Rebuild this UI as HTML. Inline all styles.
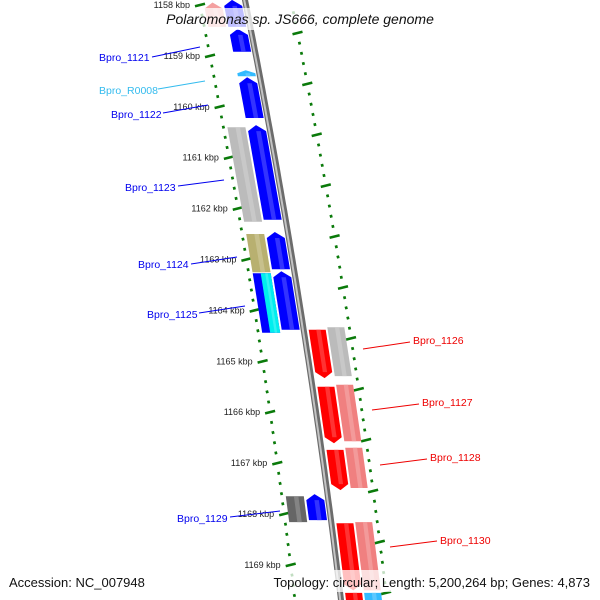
<!DOCTYPE html>
<html><head><meta charset="utf-8"><style>
body{margin:0;background:#fff;}
svg{display:block;font-family:"Liberation Sans","DejaVu Sans",sans-serif;}
</style></head><body>
<svg id="map" width="600" height="600" viewBox="0 0 600 600" xmlns="http://www.w3.org/2000/svg">
<defs>
<linearGradient id="bb" x1="0" x2="1" y1="0" y2="0">
<stop offset="0" stop-color="#777"/><stop offset="0.5" stop-color="#c8c8c8"/><stop offset="1" stop-color="#666"/>
</linearGradient>
</defs>
<g id="track"></g>
<g id="genes"></g>
<g id="labels"></g>
<rect x="0" y="8" width="600" height="22" fill="#fff" fill-opacity="0.75"/>
<text x="300" y="24" text-anchor="middle" font-size="14" font-style="italic" fill="#111">Polaromonas sp. JS666, complete genome</text>
<rect x="0" y="570" width="600" height="22" fill="#fff" fill-opacity="0.75"/>
<text x="9" y="587" font-size="13" fill="#111">Accession: NC_007948</text>
<text x="590" y="587" text-anchor="end" font-size="13" fill="#111">Topology: circular; Length: 5,200,264 bp; Genes: 4,873</text>
</svg>
<script>
// tick data (kbp)
const tickKbp = [1158,1159,1160,1161,1162,1163,1164,1165,1166,1167,1168,1169];
// genes: names, start/end (kbp), strand, lane, colours
const geneNames  = ['g-top-pink','g-top-blue','Bpro_1121','Bpro_R0008','Bpro_1122','Bpro_1123-cog','Bpro_1123','Bpro_1124-cog','Bpro_1124','Bpro_1125-cog','Bpro_1125-cog2','Bpro_1125','Bpro_1129-cog','Bpro_1129','Bpro_1126','Bpro_1126-cog','Bpro_1127','Bpro_1127-cog','Bpro_1128','Bpro_1128-cog','Bpro_1130','Bpro_1130-cog','g-bot-red','g-bot-cyan'];
const geneStart  = [1157.95,1157.9,1158.47,1159.28,1159.42,1160.4,1160.36,1162.5,1162.46,1163.27,1163.27,1163.23,1167.65,1167.61,1164.38,1164.33,1165.5,1165.46,1166.74,1166.7,1168.18,1168.16,1169.55,1169.55];
const geneEnd    = [1158.43,1158.43,1158.92,1159.4,1160.22,1162.26,1162.22,1163.25,1163.19,1164.44,1164.44,1164.38,1168.16,1168.12,1165.33,1165.29,1166.61,1166.57,1167.53,1167.49,1169.5,1169.5,1170.0,1170.0];
const geneStrand = ['up','up','up','up','up','none','up','none','up','none','none','up','none','up','down','none','down','none','down','none','down','none','down','none'];
const geneLane   = ['outer','inner','inner','inner','inner','outer','inner','outer','inner','outer','outer2','inner','outer','inner','rin','rout','rin','rout','rin','rout','rin','rout','rin','rout'];
const geneColor  = ['#f4a0a0','#0000ff','#0000ff','#33bbff','#0000ff','#bbbbbb','#0000ff','#b8b070','#0000ff','#0000ff','#00eeee','#0000ff','#666666','#0000ff','#ff0000','#bbbbbb','#ff0000','#f08080','#ff0000','#f08080','#ff0000','#f08080','#ff0000','#33bbff'];
// labels
const labelText  = ['Bpro_1121','Bpro_R0008','Bpro_1122','Bpro_1123','Bpro_1124','Bpro_1125','Bpro_1129','Bpro_1126','Bpro_1127','Bpro_1128','Bpro_1130'];
const labelColor = ['#0000ee','#33bbee','#0000ee','#0000ee','#0000ee','#0000ee','#0000ee','#ee0000','#ee0000','#ee0000','#ee0000'];
const labelX     = [99,99,111,125,138,147,177,413,422,430,440];
const labelY     = [61,94,118,191,268,318,522,344,406,461,544];
const lineFrom   = [[152,57],[158,89],[163,113],[178,186],[191,264],[199,313],[230,517],[363,349],[372,410],[380,465],[390,547]];
const lineTo     = [[200,47],[205,81],[208,105],[224,180],[237,257],[245,306],[280,511],[410,342],[419,404],[427,459],[437,541]];

const NS='http://www.w3.org/2000/svg';
const PXK=50.9, Y0=5;
function yOf(k){return Y0+(k-1158)*PXK;}
function xc(y){return 245+0.2*y-0.0000667*y*y;}
function P(y,o){return (xc(y)+o).toFixed(1)+','+y.toFixed(1);}
function mk(tag,attrs,parent){const e=document.createElementNS(NS,tag);for(const k in attrs)e.setAttribute(k,attrs[k]);parent.appendChild(e);return e;}
const track=document.getElementById('track'), genesG=document.getElementById('genes'), labG=document.getElementById('labels');

// backbone
let pts=[];for(let y=-10;y<=610;y+=10)pts.push(P(y,0));
const bb1=mk('polyline',{points:pts.join(' '),fill:'none',stroke:'#6c6c6c','stroke-width':6},track);


let pts2=[];for(let y=-10;y<=610;y+=10)pts2.push(P(y,-0.8));
const bb2=mk('polyline',{points:pts2.join(' '),fill:'none',stroke:'#c4c4c4','stroke-width':2},track);



// tick columns
function column(off,majorY0,name){
  for(let i=-2;i<70;i++){
    const y=majorY0+i*PXK/5;
    if(y<-5||y>598)continue;
    const x=xc(y)+off;
    const major=(i%5===0);
    const L=major?5:1.3;
    const t=mk('line',{x1:(x-L).toFixed(1),y1:(y+L*0.25).toFixed(1),x2:(x+L).toFixed(1),y2:(y-L*0.25).toFixed(1),stroke:'#0a7a0a','stroke-width':major?2.6:2.8},track);
    
    
  }
}
column(-46,yOf(1158),'left-tick');
column(46,yOf(1158.55),'right-tick');

// kbp labels
tickKbp.forEach(k=>{
  const y=yOf(k);
  const t=mk('text',{x:(xc(y)-46-10).toFixed(1),y:(y+3).toFixed(1),'text-anchor':'end','font-size':9,fill:'#222'},labG);
  t.textContent=k+' kbp';
  
  
});

// genes
const laneOff={outer:[-42,-24],outer2:[-34,-24],inner:[-22,-4],rin:[5,22],rout:[24,41]};
function shade(c,f){const n=parseInt(c.slice(1),16);let r=n>>16,g=(n>>8)&255,b=n&255;
  r=Math.round(r+(255-r)*f);g=Math.round(g+(255-g)*f);b=Math.round(b+(255-b)*f);return 'rgb('+r+','+g+','+b+')';}
geneNames.forEach((nm,i)=>{
  const y1=yOf(geneStart[i]), y2=yOf(geneEnd[i]);
  const [o1,o2]=laneOff[geneLane[i]]; const m=(o1+o2)/2; const a=Math.min(6,(y2-y1)/2);
  let poly;
  if(geneStrand[i]==='up') poly=[P(y1+a,o1),P(y1,m),P(y1+a,o2),P(y2,o2),P(y2,o1)];
  else if(geneStrand[i]==='down') poly=[P(y1,o1),P(y1,o2),P(y2-a,o2),P(y2,m),P(y2-a,o1)];
  else poly=[P(y1,o1),P(y1,o2),P(y2,o2),P(y2,o1)];
  const g=mk('polygon',{points:poly.join(' '),fill:geneColor[i]},genesG);
  
  
  // highlight stripe
  const w=o2-o1, h1=o1+w*0.45, h2=o1+w*0.7;
  const sy1=geneStrand[i]==='up'?y1+a:y1, sy2=geneStrand[i]==='down'?y2-a:y2;
  const s=mk('polygon',{points:[P(sy1,h1),P(sy1,h2),P(sy2,h2),P(sy2,h1)].join(' '),fill:shade(geneColor[i],0.25),'fill-opacity':0.8},genesG);
  
  
});

// gene labels
labelText.forEach((t,i)=>{
  const l=mk('line',{x1:lineFrom[i][0],y1:lineFrom[i][1],x2:lineTo[i][0],y2:lineTo[i][1],stroke:labelColor[i],'stroke-width':1},labG);
  
  
  const e=mk('text',{x:labelX[i],y:labelY[i],'font-size':10.5,fill:labelColor[i]},labG);
  e.textContent=t;
  
  
});
</script>
</body></html>
